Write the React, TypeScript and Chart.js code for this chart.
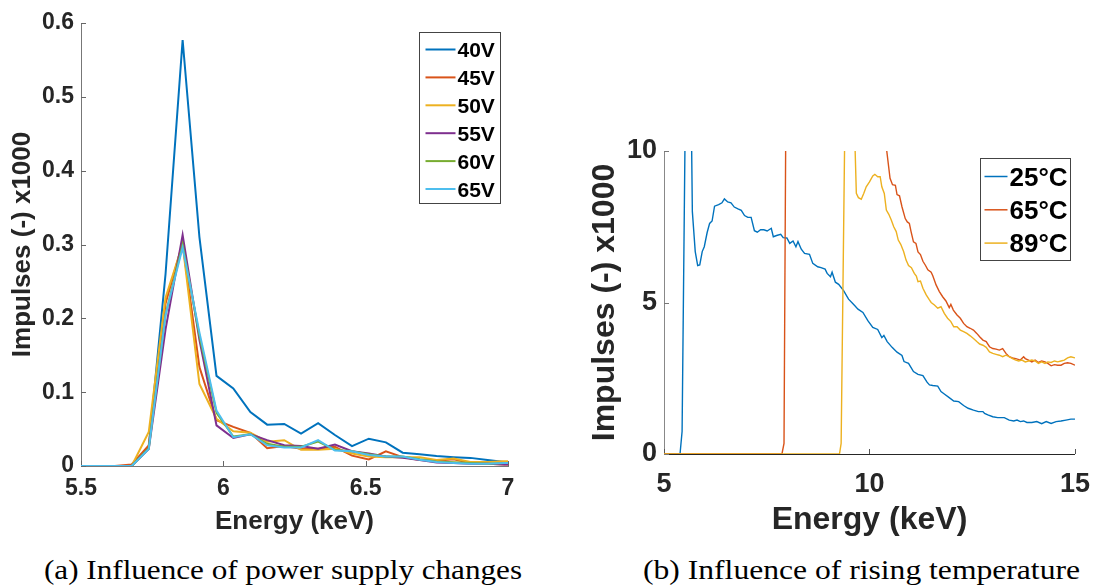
import React, { useEffect, useLayoutEffect, useRef } from "react";
import { Chart, registerables } from "chart.js";
Chart.register(...registerables);

// ---------------- (a) power supply ----------------
const energyA = [5.500, 5.559, 5.619, 5.678, 5.738, 5.797, 5.857, 5.916, 5.976, 6.035, 6.095, 6.154, 6.214, 6.273, 6.333, 6.392, 6.452, 6.511, 6.571, 6.630, 6.690, 6.749, 6.809, 6.868, 6.928, 6.987, 7.047];
const v40 = [0, 0, 0, 0, 0.026, 0.26, 0.577, 0.31, 0.122, 0.105, 0.073, 0.056, 0.057, 0.044, 0.058, 0.042, 0.027, 0.037, 0.032, 0.018, 0.016, 0.0135, 0.012, 0.011, 0.008, 0.0055, 0.004];
const v45 = [0, 0, 0, 0.002, 0.028, 0.22, 0.302, 0.134, 0.062, 0.053, 0.045, 0.024, 0.027, 0.0235, 0.0235, 0.026, 0.014, 0.009, 0.020, 0.012, 0.008, 0.007, 0.009, 0.004, 0.003, 0.002, 0.002];
const v50 = [0, 0, 0, 0, 0.046, 0.228, 0.300, 0.111, 0.064, 0.047, 0.045, 0.033, 0.035, 0.022, 0.022, 0.0235, 0.017, 0.013, 0.012, 0.012, 0.012, 0.008, 0.010, 0.0055, 0.0055, 0.0064, 0.006];
const v55 = [0, 0, 0, 0, 0.023, 0.185, 0.313, 0.171, 0.055, 0.038, 0.043, 0.035, 0.028, 0.027, 0.0235, 0.029, 0.020, 0.017, 0.013, 0.011, 0.008, 0.0046, 0.004, 0.003, 0.003, 0.002, 0.002];
const v60 = [0, 0, 0, 0, 0.024, 0.205, 0.300, 0.176, 0.072, 0.040, 0.043, 0.030, 0.026, 0.026, 0.033, 0.022, 0.020, 0.016, 0.013, 0.013, 0.009, 0.006, 0.005, 0.004, 0.003, 0.004, 0.004];
const v65 = [0, 0, 0, 0, 0.023, 0.205, 0.296, 0.181, 0.075, 0.039, 0.043, 0.028, 0.025, 0.025, 0.035, 0.021, 0.020, 0.015, 0.013, 0.013, 0.0086, 0.0055, 0.004, 0.003, 0.003, 0.004, 0.004];
const labelsA = ["40V", "45V", "50V", "55V", "60V", "65V"];
const valuesA = [v40, v45, v50, v55, v60, v65];
const xTicksA = [5.5, 6, 6.5, 7];
const yTicksA = [0, 0.1, 0.2, 0.3, 0.4, 0.5, 0.6];

// ---------------- (b) temperature ----------------
const e25 = [5.00, 5.39, 5.44, 5.52, 5.58, 5.64, 5.67, 5.69, 5.76, 5.82, 5.87, 5.93, 5.98, 6.05, 6.11, 6.17, 6.23, 6.33, 6.41, 6.47, 6.55, 6.63, 6.71, 6.80, 6.88, 6.96, 7.04, 7.12, 7.20, 7.27, 7.35, 7.43, 7.51, 7.61, 7.66, 7.74, 7.84, 7.90, 7.99, 8.06, 8.14, 8.21, 8.26, 8.34, 8.42, 8.54, 8.62, 8.74, 8.82, 8.92, 8.97, 9.05, 9.09, 9.17, 9.25, 9.37, 9.49, 9.61, 9.72, 9.84, 9.96, 10.08, 10.20, 10.30, 10.35, 10.43, 10.55, 10.67, 10.79, 10.84, 10.95, 11.07, 11.18, 11.30, 11.40, 11.46, 11.54, 11.66, 11.74, 11.82, 11.94, 12.05, 12.17, 12.29, 12.40, 12.53, 12.65, 12.76, 12.80, 12.88, 13.00, 13.12, 13.28, 13.40, 13.51, 13.59, 13.67, 13.75, 13.83, 13.95, 14.07, 14.19, 14.30, 14.42, 14.54, 14.66, 14.78, 14.90, 15.00];
const c25 = [0, 0, 0.74, 11.5, 40, 40, 10.4, 8.0, 6.68, 6.22, 6.24, 6.68, 6.84, 7.31, 7.61, 7.69, 8.18, 8.23, 8.29, 8.42, 8.32, 8.29, 8.15, 8.09, 8.04, 7.87, 7.81, 7.81, 7.37, 7.32, 7.40, 7.40, 7.36, 7.45, 7.17, 7.21, 7.25, 7.14, 7.13, 6.95, 7.03, 6.84, 7.01, 6.76, 6.62, 6.59, 6.29, 6.18, 6.15, 6.10, 5.96, 5.85, 6.00, 5.67, 5.60, 5.39, 5.11, 4.94, 4.78, 4.67, 4.40, 4.18, 4.11, 3.84, 3.91, 3.71, 3.52, 3.36, 3.25, 3.05, 2.99, 2.72, 2.63, 2.59, 2.37, 2.28, 2.26, 2.24, 2.06, 1.98, 1.86, 1.75, 1.73, 1.60, 1.51, 1.45, 1.40, 1.40, 1.34, 1.29, 1.23, 1.20, 1.20, 1.12, 1.09, 1.12, 1.07, 1.09, 1.04, 1.04, 1.07, 1.00, 1.07, 1.01, 1.07, 1.09, 1.12, 1.15, 1.15];
const e65 = [5.00, 7.87, 7.92, 7.98, 8.20, 9.80, 10.30, 10.42, 10.50, 10.56, 10.63, 10.67, 10.73, 10.79, 10.87, 10.92, 10.97, 11.01, 11.07, 11.13, 11.18, 11.24, 11.30, 11.36, 11.42, 11.50, 11.54, 11.62, 11.70, 11.78, 11.86, 11.94, 11.98, 12.04, 12.13, 12.21, 12.29, 12.37, 12.45, 12.53, 12.61, 12.68, 12.76, 12.84, 12.92, 13.00, 13.08, 13.16, 13.24, 13.32, 13.40, 13.48, 13.56, 13.67, 13.75, 13.79, 13.87, 13.95, 14.03, 14.11, 14.19, 14.27, 14.34, 14.42, 14.50, 14.58, 14.66, 14.74, 14.82, 14.90, 15.00];
const c65 = [0, 0, 0.35, 15, 40, 30, 11.3, 10.0, 9.10, 8.89, 8.87, 8.56, 8.52, 8.16, 7.77, 7.66, 7.61, 7.35, 7.00, 6.95, 6.67, 6.58, 6.36, 6.23, 6.08, 6.00, 5.88, 5.58, 5.36, 5.19, 5.05, 4.83, 4.94, 4.75, 4.59, 4.48, 4.31, 4.20, 4.15, 4.09, 3.98, 3.87, 3.76, 3.71, 3.54, 3.48, 3.46, 3.43, 3.48, 3.32, 3.21, 3.17, 3.15, 3.10, 3.21, 3.15, 3.10, 3.04, 3.10, 3.02, 3.07, 3.04, 2.99, 2.91, 2.95, 2.93, 2.93, 2.99, 3.01, 2.99, 2.93];
const e89 = [5.00, 9.27, 9.31, 9.41, 9.50, 9.58, 9.62, 9.68, 9.73, 9.80, 9.86, 9.92, 10.00, 10.08, 10.13, 10.20, 10.26, 10.30, 10.36, 10.41, 10.47, 10.53, 10.59, 10.65, 10.70, 10.76, 10.83, 10.89, 10.95, 11.02, 11.09, 11.14, 11.18, 11.24, 11.30, 11.38, 11.45, 11.50, 11.58, 11.66, 11.74, 11.82, 11.90, 11.98, 12.05, 12.13, 12.21, 12.29, 12.37, 12.45, 12.53, 12.61, 12.68, 12.76, 12.84, 12.92, 13.00, 13.08, 13.16, 13.24, 13.32, 13.40, 13.48, 13.56, 13.63, 13.71, 13.79, 13.87, 13.95, 14.03, 14.11, 14.19, 14.27, 14.34, 14.42, 14.50, 14.58, 14.66, 14.74, 14.82, 14.90, 15.00];
const c89 = [0, 0, 0.35, 12, 30, 20, 11.5, 8.60, 8.46, 8.41, 8.60, 8.82, 8.98, 9.18, 9.23, 9.15, 9.15, 8.82, 8.60, 8.05, 7.91, 7.72, 7.50, 7.34, 7.06, 6.92, 6.68, 6.40, 6.22, 6.15, 5.96, 5.87, 5.69, 5.71, 5.47, 5.25, 5.10, 5.00, 4.92, 4.81, 4.86, 4.64, 4.48, 4.37, 4.20, 4.20, 4.09, 4.04, 3.98, 3.90, 3.81, 3.71, 3.63, 3.59, 3.52, 3.37, 3.32, 3.29, 3.26, 3.21, 3.26, 3.21, 3.15, 3.10, 3.07, 3.10, 3.04, 3.07, 3.10, 3.07, 2.99, 3.04, 2.99, 3.04, 3.02, 3.07, 3.04, 3.07, 3.10, 3.17, 3.21, 3.17];
const labelsB = ["25°C", "65°C", "89°C"];
const energiesB = [e25, e65, e89];
const countsB = [c25, c65, c89];
const xTicksB = [5, 10, 15];
const yTicksB = [0, 5, 10];

const COLORS = ["#0072BD", "#D95319", "#EDB120", "#7E2F8E", "#77AC30", "#4DBEEE"];
const FONT = '"Liberation Sans", Arial, Helvetica, sans-serif';
const INK = "#262626";

function inwardTicks(len: number, xColor: string, yColor: string) {
  return {
    id: "inwardTicks",
    beforeDatasetsDraw(chart: any) {
      const { ctx, chartArea } = chart;
      const xs = chart.scales.x;
      const ys = chart.scales.y;
      ctx.save();
      ctx.lineWidth = 1;
      ctx.strokeStyle = xColor;
      for (const t of xs.ticks) {
        const px = Math.round(xs.getPixelForValue(t.value)) + 0.5;
        ctx.beginPath();
        ctx.moveTo(px, chartArea.bottom);
        ctx.lineTo(px, chartArea.bottom - len);
        ctx.stroke();
      }
      ctx.strokeStyle = yColor;
      for (const t of ys.ticks) {
        const py = Math.round(ys.getPixelForValue(t.value)) + 0.5;
        ctx.beginPath();
        ctx.moveTo(chartArea.left, py);
        ctx.lineTo(chartArea.left + len, py);
        ctx.stroke();
      }
      ctx.restore();
    },
  };
}

type LegendCfg = { right: number; top: number; w: number; h: number; row0: number; rowH: number; l0: number; l1: number; tx: number; size: number; lw: number; border: string };

function boxLegend(cfg: LegendCfg) {
  return {
    id: "boxLegend",
    afterDatasetsDraw(chart: any) {
      const { ctx, chartArea } = chart;
      const x0 = Math.round(chartArea.right - cfg.right - cfg.w) + 0.5;
      const y0 = Math.round(chartArea.top + cfg.top) + 0.5;
      ctx.save();
      ctx.fillStyle = "#fff";
      ctx.fillRect(x0, y0, cfg.w, cfg.h);
      ctx.strokeStyle = cfg.border;
      ctx.lineWidth = 1;
      ctx.strokeRect(x0, y0, cfg.w, cfg.h);
      ctx.font = `bold ${cfg.size}px ${FONT}`;
      ctx.textAlign = "left";
      ctx.textBaseline = "alphabetic";
      chart.data.datasets.forEach((ds: any, i: number) => {
        const cy = y0 + cfg.row0 + i * cfg.rowH;
        ctx.strokeStyle = ds.borderColor;
        ctx.lineWidth = cfg.lw;
        ctx.beginPath();
        ctx.moveTo(x0 + cfg.l0, cy);
        ctx.lineTo(x0 + cfg.l1, cy);
        ctx.stroke();
        ctx.fillStyle = "#000";
        ctx.fillText(ds.label, x0 + cfg.tx, cy + cfg.size * 0.358);
      });
      ctx.restore();
    },
  };
}

function axis(opts: any) {
  return {
    type: "linear",
    min: opts.min,
    max: opts.max,
    afterBuildTicks: (s: any) => {
      s.ticks = opts.ticks.map((v: number) => ({ value: v }));
    },
    afterFit: opts.fit,
    ticks: {
      font: { family: FONT, size: opts.tickSize, weight: "bold" },
      color: INK,
      padding: opts.tickPad,
      maxRotation: 0,
      autoSkip: false,
      callback: (v: any) => String(v),
    },
    grid: { display: false, drawTicks: false },
    border: { display: true, color: opts.borderColor, width: 1 },
    title: {
      display: true,
      text: opts.title,
      color: INK,
      font: { family: FONT, size: opts.titleSize, weight: "bold" },
      padding: opts.titlePad,
    },
  };
}

function ChartA() {
  const ref = useRef<HTMLCanvasElement>(null);
  useEffect(() => {
    const chart = new Chart(ref.current as HTMLCanvasElement, {
      type: "line",
      data: {
        datasets: labelsA.map((label, i) => ({
          label,
          data: energyA.map((x, j) => ({ x, y: valuesA[i][j] })),
          borderColor: COLORS[i],
          backgroundColor: COLORS[i],
          borderWidth: 2,
          pointRadius: 0,
          tension: 0,
          fill: false,
          order: labelsA.length - i,
        })),
      },
      options: {
        animation: false,
        responsive: false,
        maintainAspectRatio: false,
        layout: { padding: { left: 0, top: 23, right: 37, bottom: 0 } },
        plugins: { legend: { display: false }, tooltip: { enabled: false } },
        scales: {
          x: axis({ min: 5.5, max: 7, ticks: xTicksA, fit: (s: any) => { s.height = 79; }, tickSize: 23, tickPad: 9, borderColor: "#777", title: "Energy (keV)", titleSize: 26, titlePad: { top: 0, bottom: 8 } }),
          y: axis({ min: 0, max: 0.6, ticks: yTicksA, fit: (s: any) => { s.width = 81; }, tickSize: 23, tickPad: 7, borderColor: "#777", title: "Impulses (-) x1000", titleSize: 26, titlePad: { top: 7, bottom: 0 } }),
        },
      } as any,
      plugins: [
        inwardTicks(5, "#666", "#666"),
        boxLegend({ right: 8, top: 9, w: 81, h: 171, row0: 17, rowH: 27.9, l0: 6, l1: 36, tx: 38, size: 21, lw: 2, border: "#444" }),
      ],
    } as any);
    return () => chart.destroy();
  }, []);
  return <canvas ref={ref} width={545} height={545} style={{ position: "absolute", left: 0, top: 0, width: 545, height: 545 }} />;
}

function ChartB() {
  const ref = useRef<HTMLCanvasElement>(null);
  useEffect(() => {
    const chart = new Chart(ref.current as HTMLCanvasElement, {
      type: "line",
      data: {
        datasets: labelsB.map((label, i) => ({
          label,
          data: energiesB[i].map((x, j) => ({ x, y: countsB[i][j] })),
          borderColor: COLORS[i],
          backgroundColor: COLORS[i],
          borderWidth: 1.4,
          pointRadius: 0,
          tension: 0,
          fill: false,
          order: labelsB.length - i,
        })),
      },
      options: {
        animation: false,
        responsive: false,
        maintainAspectRatio: false,
        layout: { padding: { left: 0, top: 51, right: 18, bottom: 0 } },
        plugins: { legend: { display: false }, tooltip: { enabled: false } },
        scales: {
          x: axis({ min: 5, max: 15, ticks: xTicksB, fit: (s: any) => { s.height = 96; }, tickSize: 27, tickPad: 14, borderColor: "#262626", title: "Energy (keV)", titleSize: 32, titlePad: { top: 0, bottom: 11 } }),
          y: axis({ min: 0, max: 10, ticks: yTicksB, fit: (s: any) => { s.width = 84; }, tickSize: 27, tickPad: 7, borderColor: "#888", title: "Impulses (-) x1000", titleSize: 32, titlePad: { top: 6, bottom: 0 } }),
        },
      } as any,
      plugins: [
        inwardTicks(5, "#555", "#777"),
        boxLegend({ right: 5, top: 7, w: 90, h: 102, row0: 18, rowH: 33.3, l0: 4, l1: 27, tx: 29, size: 26, lw: 1.5, border: "#444" }),
      ],
    } as any);
    return () => chart.destroy();
  }, []);
  return <canvas ref={ref} width={524} height={450} style={{ position: "absolute", left: 580, top: 100, width: 524, height: 450 }} />;
}

function Caption(props: { text: string; left: number; width: number; top: number; size: number }) {
  const ref = useRef<HTMLSpanElement>(null);
  useLayoutEffect(() => {
    const el = ref.current;
    if (!el) return;
    el.style.transform = "none";
    const w = el.getBoundingClientRect().width;
    if (w > 0) el.style.transform = `scaleX(${props.width / w})`;
  }, [props.text, props.width]);
  return (
    <span
      ref={ref}
      style={{
        position: "absolute",
        left: props.left,
        top: props.top,
        fontFamily: '"Liberation Serif", "Times New Roman", serif',
        fontSize: props.size,
        lineHeight: `${props.size}px`,
        whiteSpace: "nowrap",
        transformOrigin: "0 0",
        color: "#000",
      }}
    >
      {props.text}
    </span>
  );
}

export default function App() {
  return (
    <div style={{ position: "fixed", left: 0, top: 0, width: 1104, height: 586, background: "#fff", overflow: "hidden" }}>
      <ChartA />
      <ChartB />
      <Caption text="(a) Influence of power supply changes" left={44} width={478} top={557} size={27} />
      <Caption text="(b) Influence of rising temperature" left={643} width={437} top={557} size={27} />
    </div>
  );
}
